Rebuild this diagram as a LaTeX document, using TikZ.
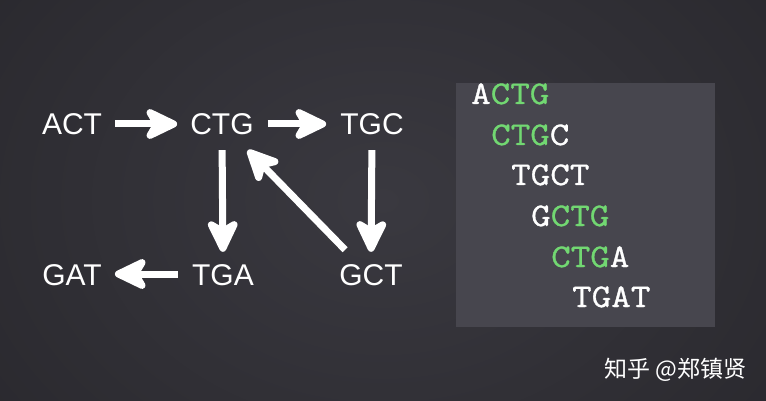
\documentclass[tikz,border=0pt]{standalone}
\usepackage{fontspec}
\setmainfont{Liberation Sans}
\newfontfamily\seqfont{Latin Modern Mono}[FakeStretch=1.15,FakeBold=1.0]
\newfontfamily\cjkfont{Noto Sans CJK SC}
\usetikzlibrary{arrows.meta}
\definecolor{bgmid}{HTML}{3A3940}
\definecolor{bgedge}{HTML}{27262B}
\definecolor{boxc}{HTML}{47464E}
\definecolor{seqgreen}{HTML}{72D872}
\tikzset{
  kmer/.style={text=white, font=\fontsize{30}{30}\selectfont, inner sep=0pt,
    text height=22pt, text depth=0pt, anchor=base},
  arr/.style={draw=white, line width=7pt,
    -{Stealth[length=40pt,width=38pt,inset=11pt,round]}},
  seq/.style={text=white, font=\seqfont\fontsize{33}{33}\selectfont, inner sep=0pt, anchor=base west},
}
\newcommand{\gr}[1]{\textcolor{seqgreen}{#1}}
\begin{document}
\begin{tikzpicture}[x=1pt,y=-1pt]
\useasboundingbox (0,0) rectangle (766,401);
\fill[bgedge] (0,0) rectangle (766,401);
\shade[inner color=bgmid, outer color=bgedge] (-200,-250) rectangle (966,651);
\fill[boxc] (456,83) rectangle (715,327);

% k-mer graph
\node[kmer] (ACT) at (72,135) {ACT};
\node[kmer] (CTG) at (222,135) {CTG};
\node[kmer] (TGC) at (372,135) {TGC};
\node[kmer] (GAT) at (72,285) {GAT};
\node[kmer] (TGA) at (223,285) {TGA};
\node[kmer] (GCT) at (371,285) {GCT};

\draw[arr, shorten <=13pt, shorten >=13pt] (ACT.east) -- (CTG.west);
\draw[arr, shorten <=14pt, shorten >=14pt] (CTG.east) -- (TGC.west);
\draw[arr, shorten <=15pt, shorten >=11pt] (CTG.south) -- (TGA.north);
\draw[arr, shorten <=15pt, shorten >=11pt] (TGC.south) -- (GCT.north);
\draw[arr] ([xshift=6pt,yshift=13pt]GCT.north west) -- ([xshift=-6pt,yshift=-15pt]CTG.south east);
\draw[arr, shorten <=14pt, shorten >=13pt] (TGA.west) -- (GAT.east);

% reads
\node[seq] (r1) at (471,104) {A\gr{CTG}};
\node[seq] (r2) at (491,145) {\gr{CTG}C};
\node[seq] (r3) at (511,185) {TGCT};
\node[seq] (r4) at (531,226) {G\gr{CTG}};
\node[seq] (r5) at (551,267) {\gr{CTG}A};
\node[seq] (r6) at (572,307) {TGAT};

% watermark
\node[text=white, font=\cjkfont\fontsize{23}{23}\selectfont, inner sep=0pt, anchor=west] (wm) at (604,370) {知乎 @郑镇贤};
\end{tikzpicture}
\end{document}
